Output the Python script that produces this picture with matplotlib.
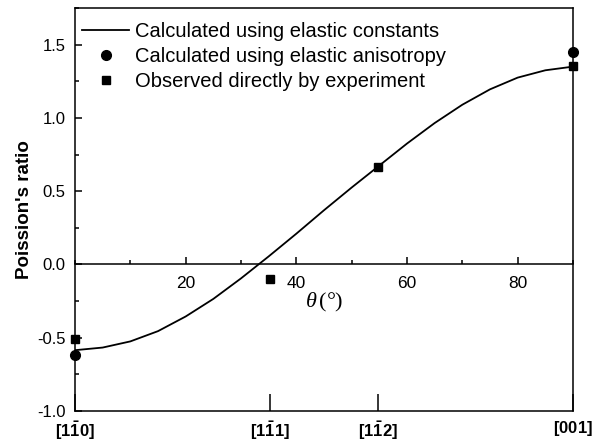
import numpy as np
import matplotlib
matplotlib.use("Agg")
import matplotlib.pyplot as plt
from matplotlib.ticker import MultipleLocator, FormatStrFormatter

plt.rcParams['font.family'] = 'Liberation Sans'
plt.rcParams['axes.unicode_minus'] = False
plt.rcParams['mathtext.fontset'] = 'custom'
plt.rcParams['mathtext.it'] = 'Liberation Serif:italic'
plt.rcParams['mathtext.rm'] = 'Liberation Serif'
plt.rcParams['mathtext.bf'] = 'Liberation Sans:bold'

# curve, every 5 degrees
theta_curve = [0, 5, 10, 15, 20, 25, 30, 35, 40, 45, 50, 55, 60, 65, 70, 75, 80, 85, 90]
nu_curve = [-0.585, -0.567, -0.525, -0.455, -0.355, -0.235, -0.095, 0.055, 0.21, 0.37,
            0.525, 0.675, 0.825, 0.965, 1.09, 1.195, 1.275, 1.325, 1.35]

# points from elastic anisotropy
theta_aniso = [0, 90]
nu_aniso = [-0.62, 1.45]

# experimental points
theta_exp = [0, 35.26, 54.74, 90]
nu_exp = [-0.51, -0.10, 0.665, 1.355]

dir_pos = [0, 35.26, 54.74, 90]
dir_labels = [r'$\mathbf{[1\bar{1}0]}$', r'$\mathbf{[1\bar{1}1]}$',
              r'$\mathbf{[1\bar{1}2]}$', r'$\mathbf{[001]}$']

fig = plt.figure(figsize=(6.06, 4.45), dpi=100)
ax = fig.add_axes([0.1238, 0.0764, 0.8217, 0.9056])

ax.plot(theta_curve, nu_curve, '-', color='black', lw=1.3, label='Calculated using elastic constants')
ax.plot(theta_aniso, nu_aniso, 'o', color='black', ms=7, clip_on=False, label='Calculated using elastic anisotropy')
ax.plot(theta_exp, nu_exp, 's', color='black', ms=6, clip_on=False, label='Observed directly by experiment')

ax.set_xlim(0, 90)
ax.set_ylim(-1.0, 1.75)
ax.yaxis.set_major_locator(MultipleLocator(0.5))
ax.yaxis.set_minor_locator(MultipleLocator(0.25))
ax.yaxis.set_major_formatter(FormatStrFormatter('%.1f'))
ax.tick_params(axis='y', which='major', direction='in', length=5, width=1.1, labelsize=12, pad=7, right=False)
ax.tick_params(axis='y', which='minor', direction='in', length=3, width=1.1, right=False)
ax.set_ylabel("Poission's ratio", fontsize=13.5, fontweight='bold', labelpad=3)

# crystal directions on the bottom axis
ax.set_xticks(dir_pos)
ax.set_xticklabels(dir_labels, fontsize=12)
ax.tick_params(axis='x', which='major', direction='in', length=12, width=1.1, pad=6, top=False)
ax.xaxis.set_minor_locator(plt.NullLocator())

for s in ax.spines.values():
    s.set_linewidth(1.1)

# theta axis drawn through y = 0
ax2 = ax.twiny()
for side in ['top', 'left', 'right']:
    ax2.spines[side].set_visible(False)
ax2.spines['bottom'].set_position(('data', 0))
ax2.spines['bottom'].set_linewidth(1.1)
ax2.xaxis.set_ticks_position('bottom')
ax2.xaxis.set_label_position('bottom')
ax2.set_xlim(0, 90)
ax2.set_xticks([20, 40, 60, 80])
ax2.xaxis.set_minor_locator(MultipleLocator(10))
ax2.tick_params(axis='x', which='major', direction='in', length=5, width=1.1, labelsize=12.5, pad=8)
ax2.tick_params(axis='x', which='minor', direction='in', length=3, width=1.1)
ax2.set_xlabel(r'$\theta\,$(°)', fontsize=16, fontfamily='Liberation Serif', labelpad=0)

ax.legend(loc='upper left', bbox_to_anchor=(0.014, 0.965), frameon=False, fontsize=14.5,
          handlelength=2.35, handletextpad=0.3, borderaxespad=0, labelspacing=0.3, borderpad=0)

fig.savefig('out.png', dpi=100)
